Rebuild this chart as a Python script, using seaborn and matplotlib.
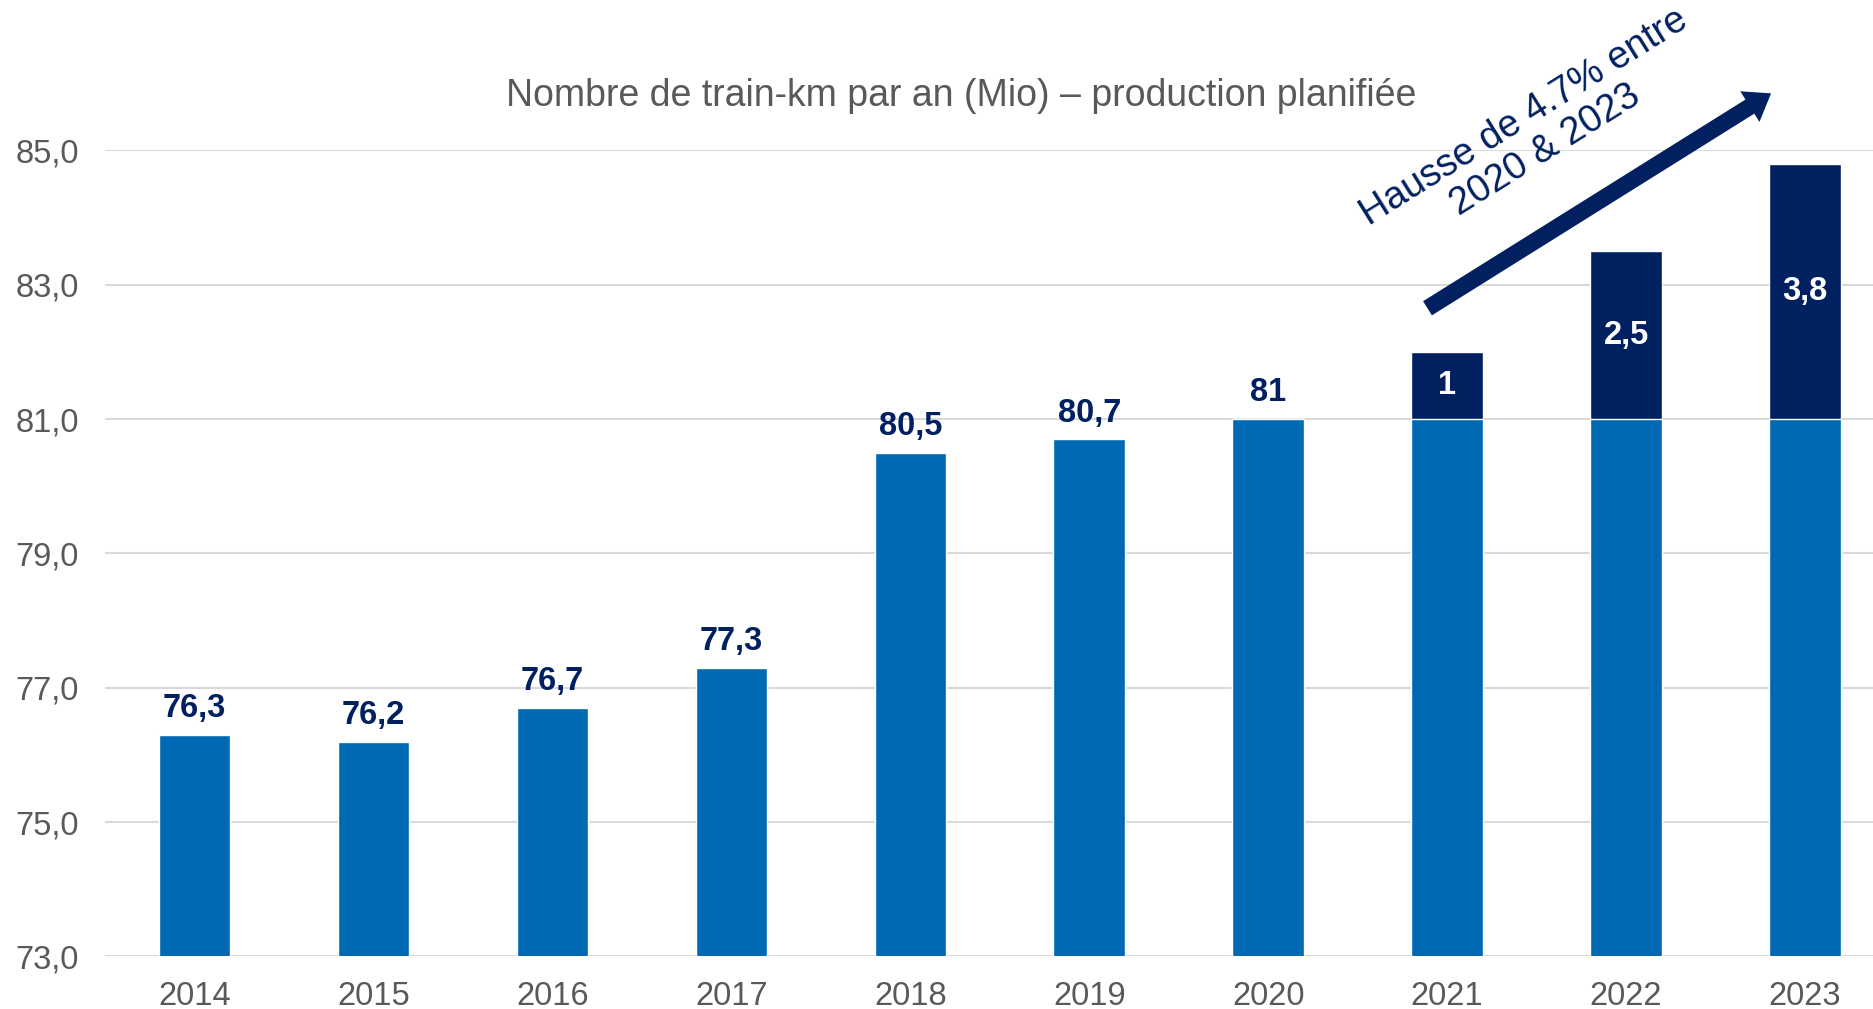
import matplotlib
matplotlib.use("Agg")
import matplotlib.pyplot as plt
import seaborn as sns
import pandas as pd

years = ['2014', '2015', '2016', '2017', '2018', '2019', '2020', '2021', '2022', '2023']
base = [76.3, 76.2, 76.7, 77.3, 80.5, 80.7, 81.0, 81.0, 81.0, 81.0]
increase = [0, 0, 0, 0, 0, 0, 0, 1.0, 2.5, 3.8]
top_labels = ['76,3', '76,2', '76,7', '77,3', '80,5', '80,7', '81', '', '', '']
inc_labels = ['', '', '', '', '', '', '', '1', '2,5', '3,8']

BLUE = '#0069B4'
NAVY = '#002060'
GRAY = '#595959'

df = pd.DataFrame({'year': years, 'base': base, 'inc': increase})
df['total'] = df['base'] + df['inc']

sns.set_style("white")
plt.rcParams['font.family'] = ['Liberation Sans', 'DejaVu Sans']

fig = plt.figure(figsize=(18.73, 10.09), dpi=100)
ax = fig.add_axes([0.0561, 0.0521, 0.9554, 0.7988])

## total (navy) then base (blue) drawn on top
sns.barplot(data=df, x='year', y='total', color=NAVY, saturation=1, width=0.4, ax=ax, zorder=2)
sns.barplot(data=df, x='year', y='base', color=BLUE, saturation=1, width=0.4, ax=ax, zorder=3)

ax.set_ylim(73, 85)
ax.set_xlim(-0.5, 9.5)
ax.set_yticks(range(73, 86, 2))
ax.set_yticklabels(['{:.1f}'.format(v).replace('.', ',') for v in range(73, 86, 2)])
ax.yaxis.grid(True, color='#D9D9D9', linewidth=1.5, zorder=0)
ax.set_axisbelow(True)
sns.despine(ax=ax, left=True, bottom=True)
ax.set_xlabel('')
ax.set_ylabel('')
ax.tick_params(axis='both', length=0, labelsize=23.5, labelcolor=GRAY)
ax.tick_params(axis='y', pad=19)
ax.tick_params(axis='x', pad=18)

## value labels
for i, (b, lab) in enumerate(zip(base, top_labels)):
    if lab:
        ax.text(i, b + 0.16, lab, ha='center', va='bottom', fontsize=23.5,
                fontweight='bold', color=NAVY, zorder=5)
for i, (b, d, lab) in enumerate(zip(base, increase, inc_labels)):
    if lab:
        ax.text(i, b + d / 2, lab, ha='center', va='center', fontsize=23.5,
                fontweight='bold', color='white', zorder=5)

## trend arrow
ax.annotate('', xy=(8.81, 85.85), xytext=(6.89, 82.65), annotation_clip=False,
            arrowprops=dict(arrowstyle='simple,head_width=2.6,head_length=1.8,tail_width=1.2',
                            color=NAVY, lw=0, shrinkA=0, shrinkB=0), zorder=6)
ax.text(7.49, 85.25, 'Hausse de 4.7% entre\n2020 & 2023', rotation=32, rotation_mode='anchor',
        ha='center', va='center', multialignment='center', fontsize=27.5, color=NAVY,
        linespacing=1.1, clip_on=False, zorder=6)

fig.text(804.5 / 1568, 1 - 80 / 845, 'Nombre de train-km par an (Mio) \u2013 production planifiée',
         ha='center', va='center', fontsize=27, color=GRAY)

fig.savefig('out.png', dpi=100)
